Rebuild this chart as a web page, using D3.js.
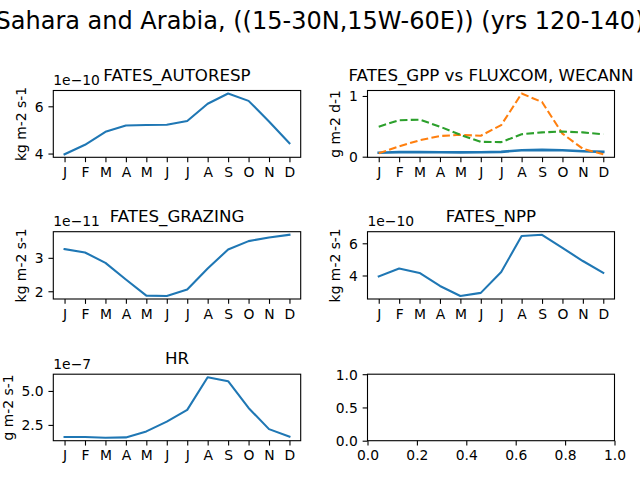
<!DOCTYPE html>
<html>
<head>
<meta charset="utf-8">
<script src="https://cdn.jsdelivr.net/npm/d3@7/dist/d3.min.js"></script>
<style>
  html, body { margin: 0; padding: 0; background: #fff; }
  svg { display: block; font-family: "DejaVu Sans", sans-serif; }
</style>
</head>
<body>
<svg id="chart" width="640" height="480"></svg>
<script>
// ---- Data ----
const months = ["J","F","M","A","M","J","J","A","S","O","N","D"];
const suptitle = "Sahara and Arabia, ((15-30N,15W-60E)) (yrs 120-140)";

const autoresp   = [3.97, 4.37, 4.92, 5.19, 5.21, 5.22, 5.38, 6.11, 6.54, 6.23, 5.36, 4.44];   // x1e-10
const gppFates   = [0.066, 0.075, 0.076, 0.073, 0.071, 0.072, 0.080, 0.106, 0.112, 0.105, 0.090, 0.080];
const gppFluxcom = [0.055, 0.17, 0.27, 0.34, 0.36, 0.345, 0.52, 1.04, 0.90, 0.38, 0.13, 0.04];
const gppWecann  = [0.495, 0.60, 0.61, 0.495, 0.36, 0.245, 0.24, 0.37, 0.40, 0.415, 0.40, 0.37];
const grazing    = [3.26, 3.16, 2.85, 2.35, 1.87, 1.86, 2.05, 2.68, 3.25, 3.50, 3.61, 3.69];   // x1e-11
const npp        = [3.94, 4.43, 4.16, 3.35, 2.73, 2.92, 4.22, 6.45, 6.53, 5.71, 4.90, 4.16];   // x1e-10
const hr         = [1.61, 1.61, 1.56, 1.58, 2.02, 2.74, 3.61, 6.01, 5.72, 3.75, 2.19, 1.63];   // x1e-7

const titles   = ["FATES_AUTORESP", "FATES_GPP vs FLUXCOM, WECANN", "FATES_GRAZING", "FATES_NPP", "HR"];
const ylabels  = ["kg m-2 s-1", "g m-2 d-1", "kg m-2 s-1", "kg m-2 s-1", "g m-2 s-1"];
const offsets  = ["1e\u221210", "", "1e\u221211", "1e\u221210", "1e\u22127"];
const yTicks1  = [4, 6];
const yTicks2  = [0, 1];
const yTicks3  = [2, 3];
const yTicks4  = [4, 6];
const yTicks5  = [2.5, 5.0];
const emptyTicks = [0, 0.2, 0.4, 0.6, 0.8, 1.0];
const emptyYTicks = [0, 0.5, 1.0];

// ---- Layout ----
const svg = d3.select("#chart");
const colX = [[53.3, 300.7], [367.5, 614.5]];
const rowY = [[90.5, 157.3], [231.7, 299.0], [374.2, 440.7]];
const C0 = "#1f77b4", C1 = "#ff7f0e", C2 = "#2ca02c";
const LW = 2.08, TICK = 4.86, PAD = 4.86, FS = 13.89, TFS = 16.67;

svg.append("text")
  .attr("x", 320).attr("y", 28.5)
  .attr("text-anchor", "middle")
  .attr("font-size", 24)
  .text(suptitle);

function styleAxis(g) {
  g.select(".domain").remove();
  g.selectAll(".tick line").attr("stroke", "#000").attr("stroke-width", 1.1);
  g.selectAll(".tick text").attr("fill", "#000").attr("font-size", FS)
    .attr("font-family", "DejaVu Sans, sans-serif");
}

function panel(col, row, series, yticks, yfmt, title, ylabel, offset) {
  const [x0, x1] = colX[col];
  const [y0, y1] = rowY[row];
  const all = series.flatMap(s => s.values);
  const mn = d3.min(all), mx = d3.max(all), m = (mx - mn) * 0.05;
  const x = d3.scaleLinear().domain([-0.55, 11.55]).range([x0, x1]);
  const y = d3.scaleLinear().domain([mn - m, mx + m]).range([y1, y0]);
  const g = svg.append("g");

  series.forEach(s => {
    const line = d3.line().x((d, i) => x(i)).y(d => y(d));
    g.append("path")
      .attr("d", line(s.values))
      .attr("fill", "none")
      .attr("stroke", s.color)
      .attr("stroke-width", s.width || LW)
      .attr("stroke-linejoin", "round")
      .attr("stroke-linecap", s.dash ? "butt" : "square")
      .attr("stroke-dasharray", s.dash ? "7.7,3.3" : null);
  });

  const xa = g.append("g").attr("transform", `translate(0,${y1})`)
    .call(d3.axisBottom(x).tickValues(d3.range(12)).tickFormat(i => months[i])
      .tickSizeInner(TICK).tickSizeOuter(0).tickPadding(PAD));
  styleAxis(xa);
  const ya = g.append("g").attr("transform", `translate(${x0},0)`)
    .call(d3.axisLeft(y).tickValues(yticks).tickFormat(yfmt)
      .tickSizeInner(TICK).tickSizeOuter(0).tickPadding(PAD));
  styleAxis(ya);
  ya.selectAll(".tick text").attr("dy", "0.36em");

  g.append("rect").attr("x", x0).attr("y", y0).attr("width", x1 - x0).attr("height", y1 - y0)
    .attr("fill", "none").attr("stroke", "#000").attr("stroke-width", 1.1);

  g.append("text").attr("x", (x0 + x1) / 2).attr("y", y0 - 9.8)
    .attr("text-anchor", "middle").attr("font-size", TFS).text(title);

  if (offset) {
    g.append("text").attr("x", x0).attr("y", y0 - 5.3)
      .attr("font-size", FS).text(offset);
  }

  let maxW = 0;
  ya.selectAll(".tick text").each(function () { maxW = Math.max(maxW, this.getComputedTextLength()); });
  const edge = x0 - TICK - PAD - maxW - 5.56;
  g.append("text")
    .attr("transform", `translate(${edge - 3.3},${(y0 + y1) / 2}) rotate(-90)`)
    .attr("text-anchor", "middle").attr("font-size", FS).text(ylabel);
}

panel(0, 0, [{values: autoresp, color: C0}], yTicks1, d3.format("d"), titles[0], ylabels[0], offsets[0]);
panel(1, 0, [
  {values: gppFates, color: C0, width: 2.6},
  {values: gppFluxcom, color: C1, dash: true},
  {values: gppWecann, color: C2, dash: true}
], yTicks2, d3.format("d"), titles[1], ylabels[1], offsets[1]);
panel(0, 1, [{values: grazing, color: C0}], yTicks3, d3.format("d"), titles[2], ylabels[2], offsets[2]);
panel(1, 1, [{values: npp, color: C0}], yTicks4, d3.format("d"), titles[3], ylabels[3], offsets[3]);
panel(0, 2, [{values: hr, color: C0}], yTicks5, d3.format(".1f"), titles[4], ylabels[4], offsets[4]);

// Empty last axes
(function () {
  const [x0, x1] = colX[1];
  const [y0, y1] = rowY[2];
  const x = d3.scaleLinear().domain([0, 1]).range([x0, x1]);
  const y = d3.scaleLinear().domain([0, 1]).range([y1, y0]);
  const g = svg.append("g");
  const xa = g.append("g").attr("transform", `translate(0,${y1})`)
    .call(d3.axisBottom(x).tickValues(emptyTicks).tickFormat(d3.format(".1f"))
      .tickSizeInner(TICK).tickSizeOuter(0).tickPadding(PAD));
  styleAxis(xa);
  const ya = g.append("g").attr("transform", `translate(${x0},0)`)
    .call(d3.axisLeft(y).tickValues(emptyYTicks).tickFormat(d3.format(".1f"))
      .tickSizeInner(TICK).tickSizeOuter(0).tickPadding(PAD));
  styleAxis(ya);
  ya.selectAll(".tick text").attr("dy", "0.36em");
  g.append("rect").attr("x", x0).attr("y", y0).attr("width", x1 - x0).attr("height", y1 - y0)
    .attr("fill", "none").attr("stroke", "#000").attr("stroke-width", 1.1);
})();
</script>
</body>
</html>
